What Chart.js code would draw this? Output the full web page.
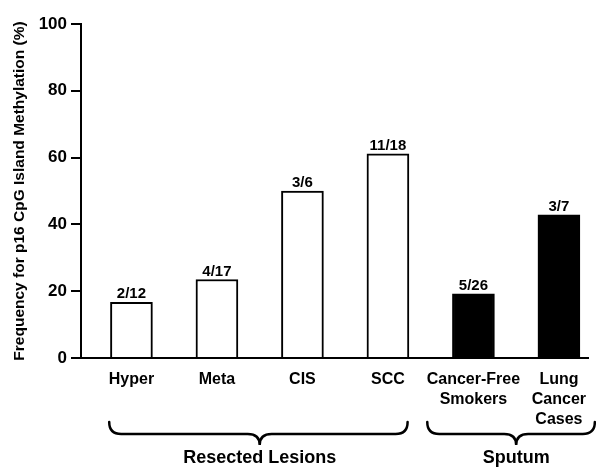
<!DOCTYPE html>
<html>
<head>
<meta charset="utf-8">
<script src="https://cdn.jsdelivr.net/npm/chart.js@4"></script>
<style>
  html, body { margin: 0; padding: 0; background: #fff; }
  #wrap { width: 596px; height: 468px; position: relative; }
</style>
</head>
<body>
<div id="wrap"><canvas id="chart"></canvas></div>
<script>
// categories and values
const categories = ['Hyper', 'Meta', 'CIS', 'SCC', ['Cancer-Free', 'Smokers'], ['Lung', 'Cancer', 'Cases']];
const frequencies = [16.7, 23.5, 50, 61.1, 19.2, 42.9];
const fractions = ['2/12', '4/17', '3/6', '11/18', '5/26', '3/7'];
const barFills = ['#ffffff', '#ffffff', '#ffffff', '#ffffff', '#000000', '#000000'];

// groups under the x axis (in category positions, 1-based)
const groupNames = ['Resected Lesions', 'Sputum'];
const groupFrom = [0.74, 4.46];
const groupTo = [4.23, 6.42];
const groupMid = [2.5, 5.5];

const yTicks = [0, 20, 40, 60, 80, 100];

const FONT = '"Liberation Sans", Arial, Helvetica, sans-serif';

const fractionLabels = {
  id: 'fractionLabels',
  afterDatasetsDraw(chart) {
    const ctx = chart.ctx;
    const meta = chart.getDatasetMeta(0);
    ctx.save();
    ctx.font = 'bold 15px ' + FONT;
    ctx.fillStyle = '#000';
    ctx.textAlign = 'center';
    ctx.textBaseline = 'alphabetic';
    meta.data.forEach((bar, i) => {
      ctx.fillText(fractions[i], bar.x, bar.y - 4);
    });
    ctx.restore();
  }
};

const groupBrackets = {
  id: 'groupBrackets',
  afterDraw(chart) {
    const ctx = chart.ctx;
    const xs = chart.scales.x;
    const base = chart.chartArea.bottom;
    const tipY = base + 64;
    const midY = base + 76;
    const pointY = base + 87;
    const r = 12;
    ctx.save();
    ctx.strokeStyle = '#000';
    ctx.lineWidth = 2.5;
    ctx.lineCap = 'round';
    groupNames.forEach((name, i) => {
      const x0 = xs.getPixelForValue(groupFrom[i]);
      const x1 = xs.getPixelForValue(groupTo[i]);
      const cx = xs.getPixelForValue(groupMid[i]);
      ctx.beginPath();
      ctx.moveTo(x0, tipY);
      ctx.quadraticCurveTo(x0, midY, x0 + r, midY);
      ctx.lineTo(cx - r, midY);
      ctx.quadraticCurveTo(cx, midY, cx, pointY);
      ctx.quadraticCurveTo(cx, midY, cx + r, midY);
      ctx.lineTo(x1 - r, midY);
      ctx.quadraticCurveTo(x1, midY, x1, tipY);
      ctx.stroke();

      ctx.font = 'bold 18px ' + FONT;
      ctx.fillStyle = '#000';
      ctx.textAlign = 'center';
      ctx.textBaseline = 'middle';
      ctx.fillText(name, cx, base + 100);
    });
    ctx.restore();
  }
};

new Chart(document.getElementById('chart'), {
  type: 'bar',
  data: {
    datasets: [{
      data: frequencies.map((v, i) => ({ x: i + 1, y: v })),
      backgroundColor: barFills,
      borderColor: '#000',
      borderWidth: 2,
      borderSkipped: 'bottom',
      barThickness: 42
    }]
  },
  options: {
    responsive: true,
    maintainAspectRatio: false,
    animation: false,
    layout: { padding: { top: 24, right: 8, left: 0, bottom: 0 } },
    plugins: {
      legend: { display: false },
      tooltip: { enabled: false }
    },
    scales: {
      x: {
        type: 'linear',
        offset: false,
        min: 0.41,
        max: 6.34,
        afterBuildTicks: (scale) => {
          scale.ticks = categories.map((c, i) => ({ value: i + 1 }));
        },
        afterFit: (scale) => { scale.height = 110; },
        grid: { display: false, offset: false },
        border: { display: true, color: '#000', width: 2 },
        ticks: {
          color: '#000',
          padding: 4,
          autoSkip: false,
          maxRotation: 0,
          font: { family: FONT, size: 16, weight: 'bold', lineHeight: 1.25 },
          callback: (v) => categories[Math.round(v) - 1]
        }
      },
      y: {
        min: 0,
        max: 100,
        afterBuildTicks: (scale) => {
          scale.ticks = yTicks.map(v => ({ value: v }));
        },
        afterFit: (scale) => { scale.width = 81; },
        grid: {
          drawOnChartArea: false,
          drawTicks: true,
          tickLength: 10,
          color: '#000',
          lineWidth: 2
        },
        border: { display: true, color: '#000', width: 2 },
        ticks: {
          color: '#000',
          padding: 4,
          font: { family: FONT, size: 17, weight: 'bold' }
        },
        title: {
          display: true,
          text: 'Frequency for p16 CpG Island Methylation (%)',
          color: '#000',
          padding: { top: 10, bottom: 0 },
          font: { family: FONT, size: 15.5, weight: 'bold' }
        }
      }
    }
  },
  plugins: [fractionLabels, groupBrackets]
});
</script>
</body>
</html>
